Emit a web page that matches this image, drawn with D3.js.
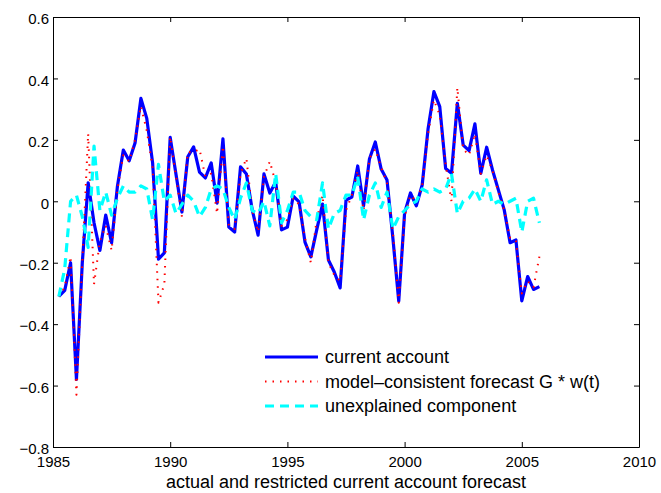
<!DOCTYPE html>
<html>
<head>
<meta charset="utf-8">
<script src="https://cdn.jsdelivr.net/npm/d3@7"></script>
<style>
body { margin: 0; background: #fff; }
svg { font-family: "Liberation Sans", Arial, Helvetica, sans-serif; }
</style>
</head>
<body>
<svg width="661" height="493"></svg>
<script>
// quarterly observations, 1985Q2 .. 2005Q4
const startYear = 1985.25;
const step = 0.25;

const currentAccount = [
  -0.31, -0.29, -0.2, -0.58, -0.2, 0.06, -0.07, -0.16, -0.045, -0.135,
  0.05, 0.167, 0.132, 0.19, 0.335, 0.27, 0.125, -0.188, -0.168, 0.208,
  0.086, -0.035, 0.145, 0.177, 0.095, 0.076, 0.125, -0.006, 0.203, -0.084,
  -0.1, 0.112, 0.089, -0.028, -0.11, 0.089, 0.027, 0.063, -0.093, -0.084,
  0.017, -0.002, -0.133, -0.181, -0.093, -0.009, -0.191, -0.23, -0.282, 0.004,
  0.014, 0.115, -0.015, 0.138, 0.193, 0.105, 0.069, -0.12, -0.325, -0.038,
  0.027, -0.015, 0.053, 0.235, 0.357, 0.308, 0.107, 0.091, 0.319, 0.183,
  0.165, 0.252, 0.091, 0.176, 0.102, 0.037, -0.028, -0.135, -0.126, -0.324,
  -0.245, -0.287, -0.278
];

const forecast = [
  -0.31, -0.28, -0.18, -0.63, -0.2, 0.22, -0.27, -0.13, -0.08, -0.16,
  0.04, 0.15, 0.13, 0.2, 0.31, 0.23, 0.11, -0.33, -0.27, 0.21,
  0.08, -0.05, 0.16, 0.16, 0.17, 0.08, 0.09, -0.04, 0.18, -0.08,
  -0.09, 0.09, 0.14, -0.03, -0.1, 0.08, 0.13, 0.06, -0.08, -0.06,
  0.01, -0.01, -0.12, -0.2, -0.06, 0.02, -0.2, -0.24, -0.26, -0.03,
  0.02, 0.1, -0.03, 0.14, 0.17, 0.11, 0.06, -0.1, -0.33, -0.05,
  0.02, 0.0, 0.05, 0.22, 0.33, 0.28, 0.12, 0.0, 0.37, 0.17,
  0.15, 0.22, 0.09, 0.15, 0.1, 0.03, -0.03, -0.12, -0.13, -0.3,
  -0.26, -0.28, -0.18
];

const unexplained = [
  -0.31, -0.22, 0.0, 0.02, -0.05, -0.15, 0.18, -0.03, 0.03, -0.045,
  0.01, 0.05, 0.03, 0.03, 0.05, 0.04, -0.06, 0.12, 0.0, 0.02,
  -0.04, -0.01, 0.02, 0.0, -0.05, -0.02, 0.04, 0.05, 0.04, -0.02,
  -0.06, 0.01, 0.06, -0.03, -0.04, 0.0, -0.08, 0.09, -0.07, -0.03,
  0.03, 0.03, -0.03, -0.05, -0.06, 0.06, -0.09, -0.04, -0.03, 0.02,
  0.02, 0.08, -0.06, 0.02, 0.06, -0.02, 0.03, -0.09, -0.05, -0.03,
  -0.01, 0.0, 0.04, 0.03, 0.04, 0.03, 0.04, 0.09, -0.04, 0.0,
  0.01, 0.04, 0.0, 0.07, -0.01, 0.0, -0.01, 0.0, 0.01, -0.1,
  0.0, 0.01, -0.07
];

const xTicks = [1985, 1990, 1995, 2000, 2005, 2010];
const yTicks = [-0.8, -0.6, -0.4, -0.2, 0, 0.2, 0.4, 0.6];
const legendLabels = ["current account", "model\u2013consistent forecast G * w(t)", "unexplained component"];
const xTitle = "actual and restricted current account forecast";

const M = { left: 53, right: 639, top: 17, bottom: 447 };

const svg = d3.select("svg");

const x = d3.scaleLinear().domain([1985, 2010]).range([M.left, M.right]);
const y = d3.scaleLinear().domain([-0.8, 0.6]).range([M.bottom, M.top]);

const fmt = d => d === 0 ? "0" : d3.format(".1f")(d).replace("-", "\u2013");

//lines
const line = d3.line()
  .x((d, i) => x(startYear + i * step))
  .y(d => y(d));

const series = [
  { values: currentAccount, color: "#0000ff", width: 3.2, dash: null },
  { values: forecast, color: "#ff0000", width: 2, dash: "1.5,6" },
  { values: unexplained, color: "#00ffff", width: 3.2, dash: "9,6" }
];

svg.append("g")
  .selectAll("path")
  .data(series)
  .enter()
  .append("path")
  .attr("d", s => line(s.values))
  .attr("fill", "none")
  .attr("stroke", s => s.color)
  .attr("stroke-width", s => s.width)
  .attr("stroke-dasharray", s => s.dash)
  .attr("stroke-linejoin", "round");

//axes
const axes = svg.append("g");

axes.append("g")
  .attr("transform", `translate(0,${M.bottom})`)
  .call(d3.axisBottom(x).tickValues(xTicks).tickFormat(d3.format("d")).tickSize(-5).tickSizeOuter(0).tickPadding(9));

axes.append("g")
  .attr("transform", `translate(0,${M.top})`)
  .call(d3.axisTop(x).tickValues(xTicks).tickFormat("").tickSize(-5).tickSizeOuter(0));

axes.append("g")
  .attr("transform", `translate(${M.left},0)`)
  .call(d3.axisLeft(y).tickValues(yTicks).tickFormat(fmt).tickSize(-5).tickSizeOuter(0).tickPadding(4))
  .selectAll("text").attr("dy", "0.45em");

axes.append("g")
  .attr("transform", `translate(${M.right},0)`)
  .call(d3.axisRight(y).tickValues(yTicks).tickFormat("").tickSize(-5).tickSizeOuter(0));

axes.selectAll("g")
  .attr("font-size", 15)
  .attr("font-family", "Liberation Sans, Arial, sans-serif");
axes.selectAll("text").attr("fill", "#000");
axes.selectAll("line, path").attr("stroke", "#000");

//x label
svg.append("text")
  .attr("x", (M.left + M.right) / 2)
  .attr("y", 488)
  .attr("text-anchor", "middle")
  .attr("font-size", 18)
  .text(xTitle);

//legend
const legend = svg.append("g")
  .selectAll("g")
  .data(series)
  .enter()
  .append("g")
  .attr("transform", (d, i) => `translate(265,${357 + i * 24.5})`);

legend.append("line")
  .attr("x1", 0).attr("x2", 53)
  .attr("stroke", d => d.color)
  .attr("stroke-width", d => d.width)
  .attr("stroke-dasharray", d => d.dash);

legend.append("text")
  .attr("x", 60)
  .attr("dy", "0.35em")
  .attr("font-size", 18)
  .text((d, i) => legendLabels[i]);
</script>
</body>
</html>
